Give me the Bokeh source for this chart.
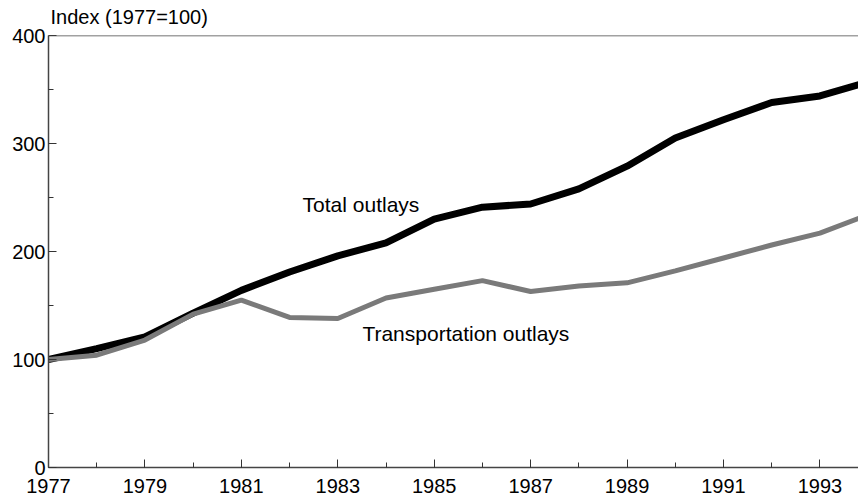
from bokeh.plotting import figure
from bokeh.models import Range1d, FixedTicker, Span, Label
from bokeh.embed import file_html
from bokeh.resources import INLINE

years = list(range(1977, 1995))
total_outlays = [100, 110, 121, 143, 164, 181, 196, 208, 230, 241, 244, 258, 279, 305, 322, 338, 344, 357]
transport_outlays = [100, 104, 118, 142, 155, 139, 138, 157, 165, 173, 163, 168, 171, 182, 194, 206, 217, 234]

major_years = list(range(1977, 1995, 2))
minor_years = list(range(1977, 1995))
y_major = [0, 100, 200, 300, 400]
y_minor = [50, 150, 250, 350]

FONT = "Liberation Sans"

p = figure(width=858, height=498, output_backend="svg", toolbar_location=None,
           x_range=Range1d(1977, 1993.8), y_range=Range1d(0, 400),
           min_border_left=48, min_border_right=0, min_border_top=35, min_border_bottom=31,
           title="Index (1977=100)")
p.title.align = "left"
p.title.vertical_align = "top"
p.title.offset = 2
p.title.standoff = 11
p.title.text_font = FONT
p.title.text_font_size = "20px"
p.title.text_font_style = "normal"
p.title.text_color = "black"

p.outline_line_color = None
p.grid.grid_line_color = None
p.background_fill_color = "white"
p.border_fill_color = "white"

p.xaxis.ticker = FixedTicker(ticks=major_years, minor_ticks=minor_years)
p.yaxis.ticker = FixedTicker(ticks=y_major, minor_ticks=y_minor)
for ax in (p.xaxis[0], p.yaxis[0]):
    ax.axis_line_color = "#444444"
    ax.axis_line_width = 1.5
    ax.major_tick_line_color = "#333333"
    ax.minor_tick_line_color = "#333333"
    ax.major_tick_in = 8
    ax.major_tick_out = 0
    ax.minor_tick_in = 5
    ax.minor_tick_out = 0
    ax.major_label_text_font = FONT
    ax.major_label_text_font_size = "20px"
    ax.major_label_text_color = "black"
p.xaxis.major_label_standoff = 11
p.yaxis.major_label_standoff = 3

p.add_layout(Span(location=400, dimension="width", line_color="#444444", line_width=1.5))

p.line(years, total_outlays, line_color="black", line_width=7)
p.line(years, transport_outlays, line_color="#7a7a7a", line_width=5)

p.add_layout(Label(x=1982.27, y=243.5, text="Total outlays", text_font=FONT,
                   text_font_size="21px", text_baseline="middle", text_color="black"))
p.add_layout(Label(x=1983.51, y=124, text="Transportation outlays", text_font=FONT,
                   text_font_size="21px", text_baseline="middle", text_color="black"))

open("out.html", "w").write(file_html(p, INLINE))
